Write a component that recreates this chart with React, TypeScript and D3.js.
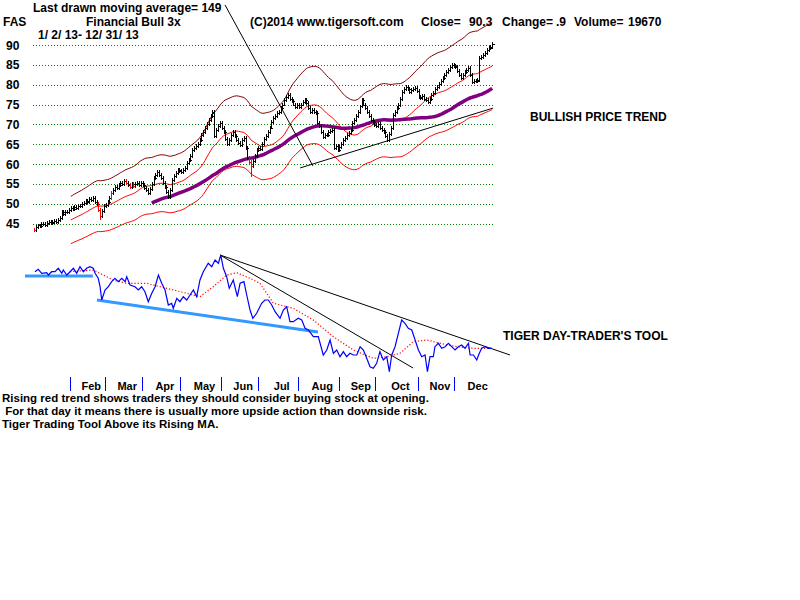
import React from 'react';
import * as d3 from 'd3';

// ---------- DATA ----------
const janCloses = [43.3, 44.0, 44.5, 44.3, 44.8, 45.0, 44.7, 45.2, 45.3, 45.1, 45.4, 45.6, 45.3, 45.8, 46.5, 47.8, 47.5, 48.0, 47.9, 48.4];
const febCloses = [49.0, 48.6, 49.2, 48.9, 49.5, 49.3, 49.8, 50.2, 50.6, 50.3, 51.3, 51.0, 51.4, 50.5, 49.8, 48.5, 46.8, 48.2, 49.5];
const marCloses = [49.6, 50.5, 51.5, 52.8, 53.5, 54.2, 54.0, 54.8, 55.2, 55.0, 55.6, 55.2, 54.8, 54.3, 55.0, 54.4, 54.9, 55.3, 54.8, 55.1];
const aprCloses = [54.6, 54.0, 53.5, 52.8, 53.6, 55.0, 56.5, 57.3, 58.0, 57.2, 56.4, 55.3, 54.2, 53.0, 51.8, 53.5, 56.0, 57.0, 57.8, 58.6, 58.2];
const mayCloses = [58.0, 58.6, 59.0, 60.2, 61.0, 62.0, 63.6, 64.0, 64.5, 65.0, 66.0, 67.2, 68.0, 69.0, 70.2, 71.0, 72.0, 73.0, 67.0, 68.5, 69.5, 70.4];
const junCloses = [69.0, 68.0, 66.2, 65.0, 66.0, 67.2, 68.0, 67.0, 66.0, 65.4, 64.8, 66.0, 66.5, 64.0, 61.6, 60.5, 59.4, 60.8, 62.0, 63.6];
const julCloses = [64.0, 63.8, 65.0, 66.2, 67.0, 68.0, 69.2, 70.7, 71.5, 72.0, 72.8, 73.2, 74.0, 75.0, 76.2, 76.8, 77.4, 76.5, 75.8, 75.0, 74.4, 74.8];
const augCloses = [74.4, 75.0, 75.6, 76.2, 75.5, 74.2, 73.2, 73.5, 73.0, 72.9, 70.4, 69.5, 68.0, 66.9, 67.2, 67.4, 68.0, 68.2, 68.6, 64.1, 64.5, 63.6];
const sepCloses = [64.2, 65.0, 66.0, 66.5, 67.2, 67.9, 68.5, 70.4, 71.0, 72.0, 73.0, 74.5, 76.2, 75.0, 74.2, 73.0, 72.0, 71.2, 70.5, 69.9];
const octCloses = [69.5, 70.0, 69.1, 68.6, 68.1, 67.0, 66.1, 67.5, 69.1, 72.4, 73.0, 74.0, 74.9, 76.5, 78.2, 78.8, 79.4, 78.8, 78.2, 78.6, 79.0, 79.2, 78.5];
const novCloses = [77.0, 76.7, 77.2, 76.5, 76.2, 75.7, 76.5, 77.4, 78.0, 78.8, 79.4, 80.2, 81.0, 81.7, 82.5, 83.2, 83.8, 84.5, 85.0, 84.8];
const decCloses = [84.5, 83.5, 82.5, 81.7, 82.5, 83.2, 83.8, 84.2, 82.5, 80.7, 81.0, 80.8, 81.2, 86.7, 87.0, 87.5, 88.0, 88.7, 89.2, 89.6, 90.3];

const closes = [
  ...janCloses, ...febCloses, ...marCloses, ...aprCloses, ...mayCloses, ...junCloses,
  ...julCloses, ...augCloses, ...sepCloses, ...octCloses, ...novCloses, ...decCloses,
];

const redBarDays = [0, 35, 36, 42, 50, 52, 54, 117, 118];
// intraday lows that reach well below the close
const deepLowDays = [36, 118];
const deepLowValues = [46.0, 56.6];

const monthNames = ['Feb', 'Mar', 'Apr', 'May', 'Jun', 'Jul', 'Aug', 'Sep', 'Oct', 'Nov', 'Dec'];
const monthStarts = [20, 39, 59, 80, 102, 122, 144, 166, 186, 209, 229];
const priceTicks = [90, 85, 80, 75, 70, 65, 60, 55, 50, 45];

// Tiger Day-Trader's Tool (day index, value)
const tdtDays = [0.5, 2.3, 4.2, 6.9, 7.8, 9.6, 11.4, 13.2, 15.1, 15.9, 17.8, 19.6, 21.4, 23.2, 25, 26.8, 28.6, 30.4, 32.2, 33.2, 34.9, 35.9, 36.8, 38.6, 40.4, 42.2, 44, 45.8, 47.7, 49.5, 50.4, 52.2, 54.9, 56.7, 58.5, 60.3, 62.1, 64, 65.8, 67.6, 69.4, 71.2, 73, 74.8, 75.7, 77.6, 79.3, 81.1, 83, 84.8, 86.6, 88.4, 90.2, 92, 94.7, 96.6, 98.4, 100.2, 101.5, 102.9, 104.7, 106.1, 108.3, 110.5, 112, 114.1, 115.6, 117.4, 118.9, 121, 123.7, 125.5, 127.3, 129.2, 131, 133.7, 135.5, 137.3, 139.1, 140.9, 143.6, 145.5, 147.3, 149.1, 151.8, 154.5, 157.2, 159.1, 160.9, 162.7, 164.5, 166.3, 168.1, 169.9, 171.7, 173.5, 175.4, 177.2, 179, 180.8, 182.6, 184.4, 186.2, 188, 189.8, 191.7, 193.1, 194.4, 196.2, 198, 199.8, 201.6, 203.4, 205.3, 207.1, 208.9, 210.7, 212.5, 213.8, 215.2, 217, 217.9, 219.7, 221.6, 223.4, 225.2, 227, 228.8, 230.6, 232.4, 234.2, 236.1, 237, 238.8, 240.6, 242, 243.3, 245.1, 246.9, 248.8];
const tdtValues = [103.3, 105.7, 101.7, 102.3, 100, 103.3, 103.3, 106.7, 101.7, 105, 100, 103.3, 106.7, 101.7, 108.3, 103.3, 106.7, 108.3, 106.7, 101.7, 96.7, 88.3, 75, 85, 88.3, 93.3, 96.7, 93.3, 96.7, 93.3, 98.3, 90, 88.3, 85, 88.3, 83.3, 73.3, 81.7, 88.3, 100, 91.7, 85, 70, 71.7, 66.7, 76.7, 73.3, 78.3, 75, 80, 85, 78.3, 95, 103.3, 111.7, 108.3, 115, 111.7, 120, 106.7, 98.3, 86.7, 95, 78.3, 91.7, 93.3, 80, 65, 56.7, 61.7, 71.7, 75, 75, 70, 63.3, 56.7, 65, 68.3, 53.3, 53.3, 56.7, 55, 46.7, 45, 38.3, 38.3, 20, 25, 35, 21.7, 25, 18.3, 23.3, 18.3, 21.7, 20, 20, 28.3, 25, 16.7, 8.3, 6.7, 11.7, 23.3, 15, 18.3, 3.3, 20, 28.3, 41.7, 55, 51.7, 46.7, 45, 35, 25, 18.3, 20, 3.3, 18.3, 18.3, 28.3, 31.7, 26.7, 28.3, 31.7, 28.3, 25, 28.3, 30, 26.7, 31.7, 20, 20, 15, 21.7, 26.7, 28.3, 26.7, 26.7];

// its moving average (red dotted)
const tdtMaDays = [19.6, 32.2, 43.1, 50.4, 61.3, 68.5, 75.7, 83, 90.2, 97.4, 104.7, 110.2, 117.4, 122.8, 130.1, 140.9, 151.8, 162.7, 173.5, 184.4, 191.7, 198.9, 206.1, 213.4, 220.7, 229.7, 238.8, 249.6];
const tdtMaValues = [103.3, 105, 95, 91.7, 91.7, 88.3, 85, 81.7, 78.3, 88.3, 100, 102.3, 96.7, 91.7, 71.7, 66.7, 55, 38.3, 25, 16.7, 18.3, 21.7, 33.3, 35, 31.7, 28.3, 26.7, 26.7];

// drawn trend lines: [day0, value0, day1, value1]
const priceTrendLines = [
  [103.8, 100.1, 151.6, 59.5],
  [144.6, 59.0, 249.5, 74.1],
];
const tdtTrendLines = [
  [101.1, 120, 258.7, 20],
  [101.1, 120, 206, 7],
];
const tdtSupportLines = [
  [-4.9, 99, 32, 99],
  [34.2, 75, 154.3, 43],
];

const noteLines = [
  'Rising red trend shows traders they should consider buying stock at opening.',
  ' For that day it means there is usually more upside action than downside risk.',
  'Tiger Trading Tool Above its Rising MA.',
];

const FONT = '"Liberation Sans", Arial, sans-serif';

function movingAverage(arr: number[], n: number): [number, number][] {
  const out: [number, number][] = [];
  for (let i = n - 1; i < arr.length; i++) {
    out.push([i, d3.mean(arr.slice(i - n + 1, i + 1)) as number]);
  }
  return out;
}

export default function App() {
  const x = d3.scaleLinear().domain([0, 249]).range([34, 492.2]);
  const yP = d3.scaleLinear().domain([45, 90]).range([223.5, 45]);
  const yT = d3.scaleLinear().domain([0, 120]).range([375, 255]);

  const ma21 = movingAverage(closes, 21);
  const ma65 = movingAverage(closes, 65);
  const upper = ma21.map(([i, v]) => [i, v * 1.13] as [number, number]);
  const lower = ma21.map(([i, v]) => [i, v * 0.87] as [number, number]);

  const pLine = d3.line<[number, number]>().x((d) => x(d[0])).y((d) => yP(d[1]));
  const tLine = d3.line<[number, number]>().x((d) => x(d[0])).y((d) => yT(d[1]));

  const tdtPts = tdtDays.map((d, i) => [d, tdtValues[i]] as [number, number]);
  const tdtMaPts = tdtMaDays.map((d, i) => [d, tdtMaValues[i]] as [number, number]);

  const txt = { fontFamily: FONT, fontWeight: 700, fontSize: 12, fill: '#000' } as const;

  return (
    <svg width={800} height={600} style={{ position: 'absolute', left: 0, top: 0, background: '#fff' }}>
      {/* header */}
      <text x={33} y={12} {...txt}>Last drawn moving average= 149</text>
      <text x={3} y={26} {...txt}>FAS</text>
      <text x={86} y={26} {...txt}>Financial Bull 3x</text>
      <text x={250} y={26} {...txt}>(C)2014 www.tigersoft.com</text>
      <text x={421} y={26} {...txt}>Close=</text>
      <text x={469} y={26} {...txt}>90.3</text>
      <text x={502} y={26} {...txt}>Change=</text>
      <text x={556} y={26} {...txt}>.9</text>
      <text x={574} y={26} {...txt}>Volume=</text>
      <text x={628} y={26} {...txt}>19670</text>
      <text x={38} y={38.5} {...txt}>1/ 2/ 13- 12/ 31/ 13</text>

      {/* price grid */}
      {priceTicks.map((t) => (
        <g key={t}>
          <line x1={33} x2={495} y1={Math.round(yP(t)) + 0.5} y2={Math.round(yP(t)) + 0.5}
            stroke="#008000" strokeWidth={1} strokeDasharray="1,2" shapeRendering="crispEdges" />
          <text x={6} y={yP(t) + 4.5} {...txt}>{t}</text>
        </g>
      ))}

      {/* bands and averages */}
      <path d={pLine(upper) || ''} fill="none" stroke="#800000" strokeWidth={1} />
      <path d={pLine(lower) || ''} fill="none" stroke="#ff0000" strokeWidth={1} />
      <path d={pLine(ma21) || ''} fill="none" stroke="#ff0000" strokeWidth={1} />
      <path d={pLine(ma65) || ''} fill="none" stroke="#800080" strokeWidth={3.5} />

      {/* price bars */}
      {closes.map((c, i) => {
        const prev = i > 0 ? closes[i - 1] : c;
        const hi = Math.max(prev, c) + 0.5;
        const dl = deepLowDays.indexOf(i);
        const lo = dl >= 0 ? deepLowValues[dl] : Math.min(prev, c) - 0.5;
        const xi = Math.round(x(i)) + 0.5;
        const col = redBarDays.includes(i) ? '#ff0000' : '#000';
        const yc = Math.round(yP(c)) + 0.5;
        return (
          <g key={i} stroke={col} shapeRendering="crispEdges">
            <line x1={xi} x2={xi} y1={yP(hi)} y2={yP(lo)} strokeWidth={1} />
            <line x1={xi} x2={xi + 2} y1={yc} y2={yc} strokeWidth={1} />
          </g>
        );
      })}

      {/* price trend lines */}
      {priceTrendLines.map((l, k) => (
        <line key={k} x1={x(l[0])} y1={yP(l[1])} x2={x(l[2])} y2={yP(l[3])} stroke="#000" strokeWidth={1} />
      ))}

      <text x={530} y={121} {...txt}>BULLISH PRICE TREND</text>

      {/* indicator panel */}
      {tdtSupportLines.map((l, k) => (
        <line key={k} x1={x(l[0])} y1={yT(l[1])} x2={x(l[2])} y2={yT(l[3])} stroke="#3399ff" strokeWidth={3} />
      ))}
      {tdtTrendLines.map((l, k) => (
        <line key={k} x1={x(l[0])} y1={yT(l[1])} x2={x(l[2])} y2={yT(l[3])} stroke="#000" strokeWidth={1} />
      ))}
      <path d={tLine(tdtMaPts) || ''} fill="none" stroke="#ff0000" strokeWidth={1.2} strokeDasharray="1.2,2" />
      <path d={tLine(tdtPts) || ''} fill="none" stroke="#0000ff" strokeWidth={1.2} />

      <text x={503} y={340} {...txt}>TIGER DAY-TRADER'S TOOL</text>

      {/* month axis */}
      {monthStarts.map((s, k) => {
        const xt = Math.round(x(s - 0.5)) + 0.5;
        const end = k < monthStarts.length - 1 ? monthStarts[k + 1] : 250;
        const xc = (x(s) + x(end)) / 2 + 3;
        return (
          <g key={s}>
            <line x1={xt} x2={xt} y1={377} y2={391} stroke="#0000ff" strokeWidth={1} shapeRendering="crispEdges" />
            <text x={xc} y={389.5} textAnchor="middle" {...txt} fontSize={11}>{monthNames[k]}</text>
          </g>
        );
      })}

      {/* notes */}
      {noteLines.map((s, k) => (
        <text key={k} x={2} y={402 + k * 12.9} {...txt} fontSize={11.5} style={{ whiteSpace: 'pre' }}>{s}</text>
      ))}
    </svg>
  );
}
